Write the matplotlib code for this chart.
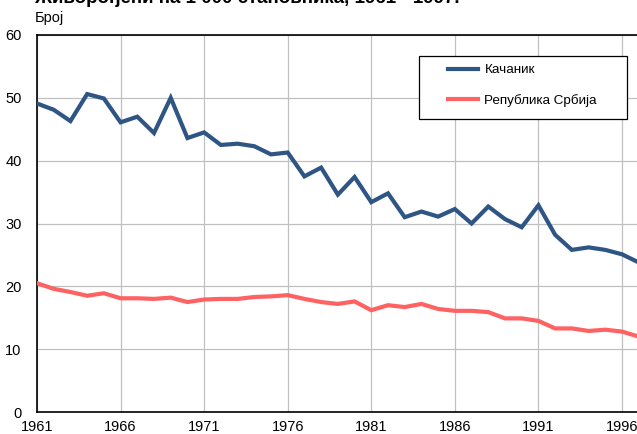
import matplotlib.pyplot as plt
from matplotlib.patches import Rectangle

plt.rcParams['font.family'] = ['Liberation Sans', 'DejaVu Sans']

years = list(range(1961, 1998))
kacanik = [49.1, 48.1, 46.3, 50.6, 49.9, 46.1, 47.0, 44.4, 50.0, 43.6,
           44.5, 42.5, 42.7, 42.3, 41.0, 41.3, 37.5, 38.9, 34.6, 37.4,
           33.4, 34.8, 31.0, 31.9, 31.1, 32.3, 30.0, 32.7, 30.7, 29.4,
           32.9, 28.2, 25.8, 26.2, 25.8, 25.1, 23.8]
srbija = [20.5, 19.6, 19.1, 18.5, 18.9, 18.1, 18.1, 18.0, 18.2, 17.5,
          17.9, 18.0, 18.0, 18.3, 18.4, 18.6, 18.0, 17.5, 17.2, 17.6,
          16.2, 17.0, 16.7, 17.2, 16.4, 16.1, 16.1, 15.9, 14.9, 14.9,
          14.5, 13.3, 13.3, 12.9, 13.1, 12.8, 12.0]
xticks = list(range(1961, 1997, 5))
yticks = [0, 10, 20, 30, 40, 50, 60]

W, H = 637, 434
fig = plt.figure(figsize=(W / 100, H / 100), dpi=100)
ax = fig.add_axes([37 / W, (H - 412) / H, (638.7 - 37) / W, (412 - 35) / H])

l1, = ax.plot(years, kacanik, color='#2e5583', lw=3, solid_joinstyle='miter', zorder=3)
l2, = ax.plot(years, srbija, color='#ff6262', lw=3, solid_joinstyle='miter', zorder=3)

ax.set_xlim(1961, 1997)
ax.set_ylim(0, 60)
ax.set_xticks(xticks)
ax.set_yticks(yticks)
ax.grid(True, color='#c0c0c0', lw=0.9)
ax.set_axisbelow(True)
ax.tick_params(length=0, labelsize=10.5, colors='black')
ax.tick_params(axis='x', pad=6)
ax.tick_params(axis='y', pad=11)
for s in ['left', 'bottom', 'top']:
    ax.spines[s].set_color('black')
    ax.spines[s].set_linewidth(1.2)
ax.spines['right'].set_visible(False)

fig.text(35 / W, 1 - 3 / H, 'Живорођени на 1 000 становника, 1961 - 1997.',
         fontsize=13.5, fontweight='bold', va='baseline', ha='left')
fig.text(35 / W, 1 - 22 / H, 'Број', fontsize=10.5, va='baseline', ha='left')

box = Rectangle((419 / W, 1 - 119 / H), 208 / W, 63 / H, transform=fig.transFigure,
                facecolor='white', edgecolor='black', lw=0.9, zorder=3)
fig.add_artist(box)
leg = fig.legend([l1, l2], ['Качаник', 'Република Србија'], loc='upper left',
                 bbox_to_anchor=(448 / W, 1 - 64 / H), frameon=False, fontsize=9.7,
                 handlelength=2.2, handletextpad=0.5, labelspacing=1.3, borderpad=0,
                 borderaxespad=0)
leg.set_zorder(5)

fig.savefig('out.png', dpi=100)
